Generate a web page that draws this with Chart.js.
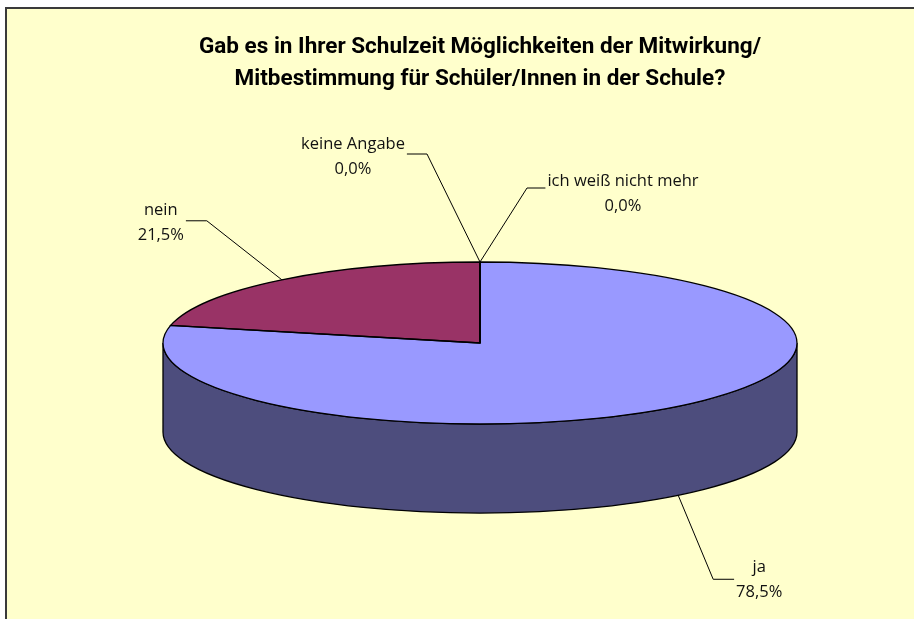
<!DOCTYPE html>
<html>
<head>
<meta charset="utf-8">
<script src="https://cdn.jsdelivr.net/npm/chart.js@4/dist/chart.umd.min.js"></script>
<style>
  html, body { margin: 0; padding: 0; background: #ffffff; }
  #wrap { width: 914px; height: 619px; position: relative; }
</style>
</head>
<body>
<div id="wrap"><canvas id="c" width="914" height="619"></canvas></div>
<script>
// ---- data ----
const titleLines = ['Gab es in Ihrer Schulzeit Möglichkeiten der Mitwirkung/', 'Mitbestimmung für Schüler/Innen in der Schule?'];
const categories = ['ja', 'nein', 'keine Angabe', 'ich weiß nicht mehr'];
const shares = [78.5, 21.5, 0.0, 0.0];

// ---- styles ----
const topColors = ['#9999FF', '#993366', '#FFFFCC', '#00FFFF'];
const sideColors = ['#4D4D7D', '#4D1A33', '#80806A', '#008080'];
const tilt = 0.2555;      // ry / rx
const depthRatio = 0.281; // depth / rx
// label placement: elbow offset from anchor, text-center offset from elbow
const labelPlacement = [
  { elbow: [35, 84],   text: [46, 1] },
  { elbow: [-75, -59], text: [-46, 2.5] },
  { elbow: [-53, -108], text: [-74, 2.5] },
  { elbow: [47, -74],  text: [96, 5.5] }
];
const labelFont = '16.5px "Open Sans", "Noto Sans", sans-serif';

function fmt(v) { return v.toFixed(1).replace('.', ',') + '%'; }

function geom(chart) {
  const a = chart.chartArea;
  const rx = (a.right - a.left) / 2;
  const ry = rx * tilt;
  const depth = rx * depthRatio;
  return { cx: (a.left + a.right) / 2, cy: a.top + ry, rx, ry, depth };
}

const pie3d = {
  id: 'pie3d',
  beforeDraw(chart) {
    const ctx = chart.ctx;
    ctx.save();
    ctx.fillStyle = '#ffffff';
    ctx.fillRect(0, 0, chart.width, chart.height);
    ctx.fillStyle = '#FFFFCC';
    ctx.fillRect(7, 9, chart.width - 7, chart.height - 9);
    ctx.fillStyle = '#3a3a3a';
    ctx.fillRect(5, 7, chart.width - 5, 2);
    ctx.fillRect(5, 7, 2, chart.height - 7);
    ctx.restore();
  },
  beforeDatasetsDraw(chart) {
    const ctx = chart.ctx;
    const g = geom(chart);
    const meta = chart.getDatasetMeta(0);
    // side walls (front half only)
    ctx.save();
    ctx.lineWidth = 1.3;
    ctx.strokeStyle = '#000';
    meta.data.forEach((arc, i) => {
      const s = arc.startAngle, e = arc.endAngle;
      if (e - s <= 0) return;
      for (let k = -1; k <= 2; k++) {
        const lo = Math.max(s, 2 * Math.PI * k), hi = Math.min(e, 2 * Math.PI * k + Math.PI);
        if (hi <= lo) continue;
        ctx.beginPath();
        ctx.ellipse(g.cx, g.cy, g.rx, g.ry, 0, lo, hi, false);
        ctx.lineTo(g.cx + g.rx * Math.cos(hi), g.cy + g.depth + g.ry * Math.sin(hi));
        ctx.ellipse(g.cx, g.cy + g.depth, g.rx, g.ry, 0, hi, lo, true);
        ctx.closePath();
        ctx.fillStyle = sideColors[i];
        ctx.fill();
        ctx.stroke();
      }
    });
    ctx.restore();
    // squash the library's circular pie into the top ellipse
    const p = meta.data[0];
    const R = p.outerRadius;
    ctx.save();
    ctx.translate(g.cx, g.cy);
    ctx.scale(g.rx / R, g.ry / R);
    ctx.translate(-p.x, -p.y);
  },
  afterDatasetsDraw(chart) {
    const ctx = chart.ctx;
    ctx.restore();
    const g = geom(chart);
    const meta = chart.getDatasetMeta(0);
    ctx.save();
    ctx.lineWidth = 1.3;
    ctx.strokeStyle = '#000';
    meta.data.forEach((arc) => {
      const s = arc.startAngle, e = arc.endAngle;
      ctx.beginPath();
      ctx.moveTo(g.cx, g.cy);
      if (e - s > 0) ctx.ellipse(g.cx, g.cy, g.rx, g.ry, 0, s, e, false);
      else ctx.lineTo(g.cx + g.rx * Math.cos(s), g.cy + g.ry * Math.sin(s));
      ctx.closePath();
      ctx.stroke();
    });
    ctx.restore();
    // labels with leader lines
    ctx.save();
    ctx.font = labelFont;
    ctx.fillStyle = '#111';
    ctx.strokeStyle = '#000';
    ctx.lineWidth = 1;
    ctx.textAlign = 'center';
    ctx.textBaseline = 'middle';
    meta.data.forEach((arc, i) => {
      const m = (arc.startAngle + arc.endAngle) / 2;
      let ax = g.cx + g.rx * Math.cos(m);
      let ay = g.cy + g.ry * Math.sin(m);
      if (Math.sin(m) > 0.001) ay += g.depth;
      const pl = labelPlacement[i];
      const ex = ax + pl.elbow[0], ey = ay + pl.elbow[1];
      const tx = ex + pl.text[0], ty = ey + pl.text[1];
      const l1 = categories[i], l2 = fmt(shares[i]);
      const w = Math.max(ctx.measureText(l1).width, ctx.measureText(l2).width);
      const dir = pl.text[0] > 0 ? 1 : -1;
      const endX = tx - dir * (w / 2 + 2);
      ctx.beginPath();
      ctx.moveTo(ax, ay);
      ctx.lineTo(ex, ey);
      ctx.lineTo(endX, ey);
      ctx.stroke();
      ctx.fillText(l1, tx, ty - 12.5);
      ctx.fillText(l2, tx, ty + 12.5);
    });
    ctx.restore();
  }
};

new Chart(document.getElementById('c'), {
  type: 'pie',
  data: {
    labels: categories,
    datasets: [{
      data: shares,
      backgroundColor: topColors,
      borderWidth: 0
    }]
  },
  options: {
    responsive: false,
    animation: false,
    events: [],
    layout: { padding: { left: 163, right: 117, top: 31, bottom: 106 } },
    plugins: {
      legend: { display: false },
      tooltip: { enabled: false },
      title: {
        display: true,
        text: titleLines,
        color: '#000',
        font: { family: 'Roboto, "Noto Sans", sans-serif', size: 22.5, weight: 'bold', lineHeight: 32 / 22.5 },
        padding: { top: 0, bottom: 167 }
      }
    }
  },
  plugins: [pie3d]
});
</script>
</body>
</html>
